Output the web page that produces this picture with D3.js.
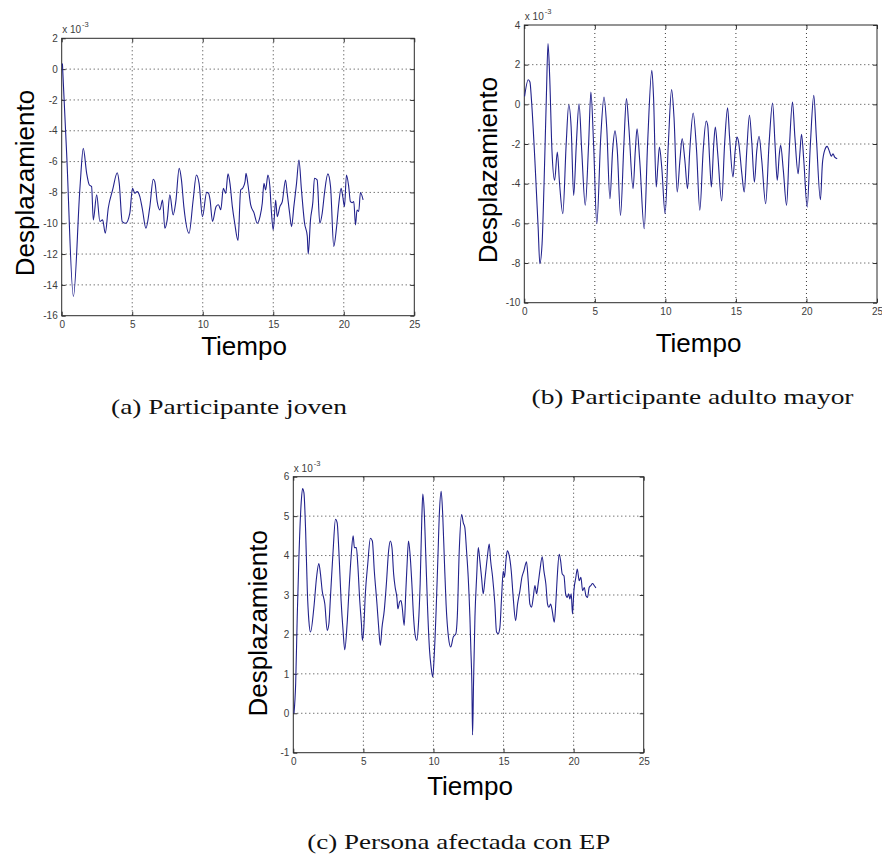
<!DOCTYPE html>
<html>
<head>
<meta charset="utf-8">
<script src="https://cdn.jsdelivr.net/npm/d3@7"></script>
<style>
body { margin: 0; background: #fff; }
</style>
</head>
<body>
<div id="vis"></div>
<script>
// declare constants
const FRAME_WIDTH = 882;
const FRAME_HEIGHT = 855;

// tick labels
const X_TICKS = [0, 5, 10, 15, 20, 25];
const Y_TICKS_A = [-16, -14, -12, -10, -8, -6, -4, -2, 0, 2];
const Y_TICKS_B = [-10, -8, -6, -4, -2, 0, 2, 4];
const Y_TICKS_C = [-1, 0, 1, 2, 3, 4, 5, 6];

// axis texts
const X_TITLE = "Tiempo";
const Y_TITLE = "Desplazamiento";
const CAPTIONS = ["(a) Participante joven", "(b) Participante adulto mayor", "(c) Persona afectada con EP"];

// (a) participante joven, displacement x 10^-3
const TIME_A = [0.05, 0.35, 0.83, 1.3, 1.53, 1.77, 1.96, 2.12, 2.24, 2.48, 2.71, 2.9, 3.09, 3.3, 3.61, 3.94, 4.08, 4.29, 4.55, 4.83,
	5.02, 5.19, 5.35, 5.54, 5.73, 5.97, 6.25, 6.49, 6.6, 6.77, 6.96, 7.15, 7.31, 7.48, 7.67, 7.9, 8.09, 8.33, 8.49, 8.66,
	9.03, 9.32, 9.55, 9.74, 9.98, 10.28, 10.4, 10.52, 10.69, 10.95, 11.11, 11.28, 11.46, 11.63, 11.79, 11.93, 12.1, 12.26, 12.5, 12.69,
	12.83, 13.0, 13.07, 13.21, 13.4, 13.63, 13.87, 14.06, 14.22, 14.34, 14.46, 14.62, 14.76, 14.86, 15.0, 15.17, 15.28, 15.47, 15.64, 15.87,
	15.99, 16.16, 16.3, 16.46, 16.65, 16.82, 17.0, 17.22, 17.41, 17.48, 17.64, 17.81, 17.92, 18.11, 18.3, 18.47, 18.63, 18.87, 19.06, 19.29,
	19.48, 19.65, 19.81, 19.93, 20.05, 20.19, 20.35, 20.47, 20.59, 20.71, 20.83, 20.94, 21.06, 21.18, 21.37];
const DISP_A = [0.37, -5.46, -14.75, -7.62, -5.14, -6.76, -7.52, -7.62, -9.78, -8.16, -9.89, -9.78, -10.65, -9.03, -7.84, -6.72, -7.41, -9.89, -10.0, -9.35,
	-7.73, -8.06, -7.95, -8.27, -9.14, -10.32, -8.92, -7.15, -7.3, -8.6, -9.14, -8.49, -10.32, -9.78, -8.16, -9.46, -8.6, -6.44, -7.19, -8.92,
	-10.65, -8.49, -6.87, -7.41, -9.57, -8.0, -8.04, -8.48, -9.88, -8.91, -8.8, -9.12, -7.73, -8.06, -6.8, -7.41, -8.92, -9.95, -11.12, -7.84,
	-7.73, -7.3, -6.76, -7.52, -8.81, -9.31, -10.0, -9.57, -8.7, -7.41, -7.84, -6.87, -7.62, -9.14, -10.43, -8.49, -9.57, -8.92, -8.6, -7.19,
	-8.06, -9.35, -10.22, -8.92, -7.41, -5.9, -7.84, -10.0, -10.82, -12.0, -9.78, -8.6, -7.08, -7.19, -10.0, -9.35, -8.06, -6.8, -7.62, -11.51,
	-10.32, -8.7, -7.73, -8.27, -8.92, -6.87, -7.62, -8.6, -8.66, -8.6, -10.11, -9.14, -9.24, -8.01, -8.49];

// (b) participante adulto mayor
const TIME_B = [0.02, 0.28, 0.4, 0.51, 0.75, 0.98, 1.1, 1.26, 1.4, 1.57, 1.68, 1.8, 1.96, 2.15, 2.34, 2.5, 2.73, 2.97, 3.15, 3.32,
	3.5, 3.69, 3.88, 4.07, 4.32, 4.56, 4.72, 4.91, 5.14, 5.42, 5.65, 5.84, 6.07, 6.26, 6.43, 6.59, 6.82, 7.06, 7.24, 7.41,
	7.71, 7.87, 7.99, 8.18, 8.5, 8.74, 9.04, 9.16, 9.35, 9.46, 9.58, 9.74, 9.98, 10.21, 10.44, 10.61, 10.84, 11.03, 11.19, 11.38,
	11.57, 11.73, 11.97, 12.21, 12.44, 12.68, 12.89, 13.0, 13.15, 13.26, 13.43, 13.54, 13.71, 13.99, 14.2, 14.41, 14.55, 14.79, 14.95, 15.07,
	15.19, 15.42, 15.59, 15.77, 15.96, 16.13, 16.31, 16.48, 16.64, 16.83, 17.11, 17.35, 17.6, 17.77, 17.93, 18.08, 18.17, 18.36, 18.59, 18.78,
	19.01, 19.18, 19.41, 19.53, 19.65, 19.81, 20.05, 20.28, 20.52, 20.7, 20.99, 21.13, 21.29, 21.46, 21.64, 21.76, 21.88, 22.0, 22.18];
const DISP_B = [0.4, 1.24, 1.13, 0.2, -2.82, -6.18, -8.03, -7.03, -4.0, 0.54, 3.06, 1.38, -2.32, -3.83, -2.4, -4.0, -5.51, -1.98, -0.02, -1.14,
	-4.59, -1.98, 0.03, -2.32, -5.09, -1.98, 0.62, -1.98, -6.02, -1.65, 0.37, -1.14, -4.76, -2.32, -1.34, -2.32, -5.6, -1.98, 0.29, -1.14,
	-4.25, -2.32, -1.23, -2.82, -6.27, -1.98, 1.71, 0.37, -4.17, -3.16, -2.15, -3.16, -5.51, -1.98, 0.74, -0.64, -4.42, -2.82, -1.73, -2.82,
	-4.25, -2.32, -0.44, -2.32, -5.34, -2.32, -0.84, -1.06, -2.99, -4.17, -1.98, -1.14, -2.49, -4.87, -1.98, -0.17, -1.65, -3.66, -2.32, -1.65,
	-1.9, -3.5, -4.42, -2.32, -0.55, -1.98, -3.92, -2.32, -1.61, -2.82, -5.01, -1.98, 0.07, -1.98, -3.83, -2.49, -2.07, -3.33, -5.09, -2.32,
	0.12, -1.65, -3.5, -2.49, -1.51, -2.82, -5.18, -1.98, 0.45, -1.65, -4.81, -2.99, -2.32, -2.12, -2.4, -2.62, -2.49, -2.66, -2.74];

// (c) persona afectada con EP
const TIME_C = [0.05, 0.17, 0.28, 0.4, 0.57, 0.66, 0.76, 0.88, 1.0, 1.11, 1.23, 1.47, 1.66, 1.82, 1.94, 2.06, 2.25, 2.42, 2.54, 2.65,
	2.84, 3.01, 3.13, 3.25, 3.41, 3.55, 3.67, 3.84, 4.0, 4.12, 4.27, 4.36, 4.5, 4.6, 4.74, 4.86, 4.93, 5.02, 5.14, 5.31,
	5.5, 5.64, 5.78, 5.97, 6.09, 6.21, 6.33, 6.49, 6.64, 6.8, 6.92, 7.04, 7.16, 7.27, 7.39, 7.46, 7.58, 7.68, 7.77, 7.91,
	8.03, 8.13, 8.22, 8.34, 8.46, 8.58, 8.7, 8.82, 8.93, 9.05, 9.17, 9.24, 9.34, 9.45, 9.57, 9.72, 9.83, 9.95, 10.05, 10.19,
	10.31, 10.43, 10.55, 10.66, 10.78, 10.9, 11.07, 11.23, 11.41, 11.6, 11.7, 11.84, 12.01, 12.13, 12.24, 12.36, 12.48, 12.6, 12.67, 12.74,
	12.79, 12.86, 12.96, 13.08, 13.2, 13.31, 13.43, 13.55, 13.69, 13.84, 13.98, 14.08, 14.22, 14.38, 14.5, 14.62, 14.74, 14.86, 14.98, 15.07,
	15.17, 15.27, 15.41, 15.55, 15.69, 15.86, 16.0, 16.17, 16.31, 16.45, 16.64, 16.76, 16.88, 17.0, 17.12, 17.24, 17.36, 17.47, 17.59, 17.76,
	17.88, 18.02, 18.14, 18.24, 18.36, 18.47, 18.62, 18.74, 18.83, 18.97, 19.07, 19.19, 19.31, 19.43, 19.54, 19.64, 19.73, 19.83, 19.92, 20.02,
	20.16, 20.26, 20.4, 20.52, 20.64, 20.76, 20.88, 20.99, 21.11, 21.23, 21.35, 21.47, 21.59];
const DISP_C = [0.0, 0.76, 2.44, 3.95, 5.38, 5.7, 5.59, 4.62, 3.11, 2.35, 2.06, 2.69, 3.45, 3.8, 3.53, 3.11, 2.77, 2.1, 2.27, 2.94,
	4.12, 4.92, 4.83, 4.12, 2.86, 2.1, 1.61, 2.27, 3.28, 3.95, 4.5, 4.2, 4.2, 3.78, 2.86, 2.27, 1.85, 2.1, 3.03, 3.78,
	4.44, 4.37, 3.61, 2.77, 2.18, 1.72, 2.18, 2.61, 3.28, 4.12, 4.37, 4.2, 3.53, 3.19, 2.94, 2.65, 2.82, 2.86, 2.69, 2.23,
	3.11, 3.87, 4.37, 3.99, 3.28, 2.44, 1.97, 1.85, 2.27, 3.28, 4.96, 5.56, 5.13, 4.03, 2.77, 1.6, 1.18, 0.92, 1.43, 2.61,
	3.87, 5.13, 5.63, 5.04, 3.87, 2.77, 1.93, 1.68, 1.93, 2.02, 2.44, 4.12, 5.04, 4.83, 4.71, 4.12, 3.45, 2.44, 1.6, 0.76,
	-0.55, 0.76, 2.44, 3.45, 4.2, 3.87, 3.45, 3.03, 3.45, 3.95, 4.29, 3.87, 3.45, 2.77, 2.06, 2.02, 2.18, 2.94, 3.61, 3.45,
	3.87, 4.12, 3.99, 3.61, 2.94, 2.35, 2.77, 3.11, 3.45, 3.61, 3.84, 3.36, 2.77, 2.69, 2.94, 3.24, 3.03, 3.28, 3.61, 3.97,
	3.61, 3.28, 2.77, 2.69, 2.77, 2.61, 2.31, 2.86, 3.45, 4.03, 3.87, 3.53, 3.49, 3.03, 2.94, 3.03, 2.9, 3.03, 2.52, 3.11,
	3.45, 3.66, 3.36, 3.45, 3.11, 3.19, 2.98, 2.94, 3.19, 3.24, 3.29, 3.24, 3.18];

// where each subplot sits on the page
const PANELS = [
	{time: TIME_A, disp: DISP_A, yTicks: Y_TICKS_A, caption: CAPTIONS[0],
	 left: 61.7, top: 38.3, width: 352.6, height: 277.4,
	 ylabelX: 33.5, ylabelY: 183, xlabelX: 244, xlabelY: 354.5,
	 captionX: 229, captionY: 414, captionLen: 236},
	{time: TIME_B, disp: DISP_B, yTicks: Y_TICKS_B, caption: CAPTIONS[1],
	 left: 524.3, top: 25, width: 352.7, height: 277.7,
	 ylabelX: 497, ylabelY: 170, xlabelX: 698.5, xlabelY: 351.5,
	 captionX: 692.5, captionY: 404, captionLen: 322},
	{time: TIME_C, disp: DISP_C, yTicks: Y_TICKS_C, caption: CAPTIONS[2],
	 left: 293.3, top: 476.7, width: 350.4, height: 276,
	 ylabelX: 267, ylabelY: 623.3, xlabelX: 470, xlabelY: 795,
	 captionX: 458.7, captionY: 849, captionLen: 303}
];

const SANS = "'Liberation Sans', Arial, sans-serif";
const SERIF = "'Liberation Serif', 'Times New Roman', serif";

// make the big frame
const FRAME = d3.select("#vis")
	.append("svg")
		.attr("width", FRAME_WIDTH)
		.attr("height", FRAME_HEIGHT)
		.style("background", "#fff");

function build_panel(p) {
	const g = FRAME.append("g")
		.attr("transform", "translate(" + p.left + "," + p.top + ")");

	const x = d3.scaleLinear()
		.domain([X_TICKS[0], X_TICKS[X_TICKS.length - 1]])
		.range([0, p.width]);
	const y = d3.scaleLinear()
		.domain([p.yTicks[0], p.yTicks[p.yTicks.length - 1]])
		.range([p.height, 0]);

	// dotted grid
	g.append("g")
		.selectAll("line")
		.data(X_TICKS.slice(1, -1))
		.enter()
		.append("line")
			.attr("x1", d => x(d)).attr("x2", d => x(d))
			.attr("y1", 0).attr("y2", p.height)
			.attr("stroke", "#3a3a3a")
			.attr("stroke-dasharray", "1,3");
	g.append("g")
		.selectAll("line")
		.data(p.yTicks.slice(1, -1))
		.enter()
		.append("line")
			.attr("y1", d => y(d)).attr("y2", d => y(d))
			.attr("x1", 0).attr("x2", p.width)
			.attr("stroke", "#3a3a3a")
			.attr("stroke-dasharray", "1,3");

	// axes with ticks inside the box, like matlab
	const fmt = d => String(d);
	const bottom = g.append("g")
		.attr("transform", "translate(0," + p.height + ")")
		.call(d3.axisBottom(x).tickValues(X_TICKS).tickSizeInner(-4).tickSizeOuter(0).tickPadding(5).tickFormat(fmt));
	const left = g.append("g")
		.call(d3.axisLeft(y).tickValues(p.yTicks).tickSizeInner(-4).tickSizeOuter(0).tickPadding(4).tickFormat(fmt));
	const top = g.append("g")
		.call(d3.axisTop(x).tickValues(X_TICKS).tickSizeInner(-4).tickSizeOuter(0).tickFormat(""));
	const right = g.append("g")
		.attr("transform", "translate(" + p.width + ",0)")
		.call(d3.axisRight(y).tickValues(p.yTicks).tickSizeInner(-4).tickSizeOuter(0).tickFormat(""));

	[bottom, left, top, right].forEach(a => {
		a.select(".domain").remove();
		a.selectAll("line").attr("stroke", "#333");
		a.selectAll("text")
			.attr("fill", "#3c3c3c")
			.style("font-family", SANS)
			.style("font-size", "10px");
	});

	// box
	g.append("rect")
		.attr("width", p.width)
		.attr("height", p.height)
		.attr("fill", "none")
		.attr("stroke", "#2a2a2a")
		.attr("stroke-width", 1);

	// exponent note
	const note = g.append("text")
		.attr("x", 0.5)
		.attr("y", -5)
		.attr("fill", "#3c3c3c")
		.style("font-family", SANS)
		.style("font-size", "10px")
		.text("x 10");
	note.append("tspan")
		.attr("dy", -6)
		.attr("dx", 1)
		.style("font-size", "7.5px")
		.text("-3");

	// the signal
	const line = d3.line()
		.x(d => x(d[0]))
		.y(d => y(d[1]))
		.curve(d3.curveMonotoneX);
	g.append("path")
		.datum(d3.zip(p.time, p.disp))
		.attr("d", line)
		.attr("fill", "none")
		.attr("stroke", "#22228c")
		.attr("stroke-width", 1.1);

	// axis titles
	FRAME.append("text")
		.attr("transform", "translate(" + p.ylabelX + "," + p.ylabelY + ")rotate(-90)")
		.attr("text-anchor", "middle")
		.attr("fill", "#000")
		.style("font-family", SANS)
		.style("font-size", "26px")
		.text(Y_TITLE);
	FRAME.append("text")
		.attr("x", p.xlabelX)
		.attr("y", p.xlabelY)
		.attr("text-anchor", "middle")
		.attr("fill", "#000")
		.style("font-family", SANS)
		.style("font-size", "26px")
		.text(X_TITLE);

	// subfigure caption, stretched a little to get the width of the latex font
	FRAME.append("text")
		.attr("x", p.captionX - p.captionLen / 2)
		.attr("y", p.captionY)
		.attr("textLength", p.captionLen)
		.attr("lengthAdjust", "spacingAndGlyphs")
		.attr("fill", "#111")
		.style("font-family", SERIF)
		.style("font-size", "22px")
		.text(p.caption);
}

PANELS.forEach(build_panel);
</script>
</body>
</html>
